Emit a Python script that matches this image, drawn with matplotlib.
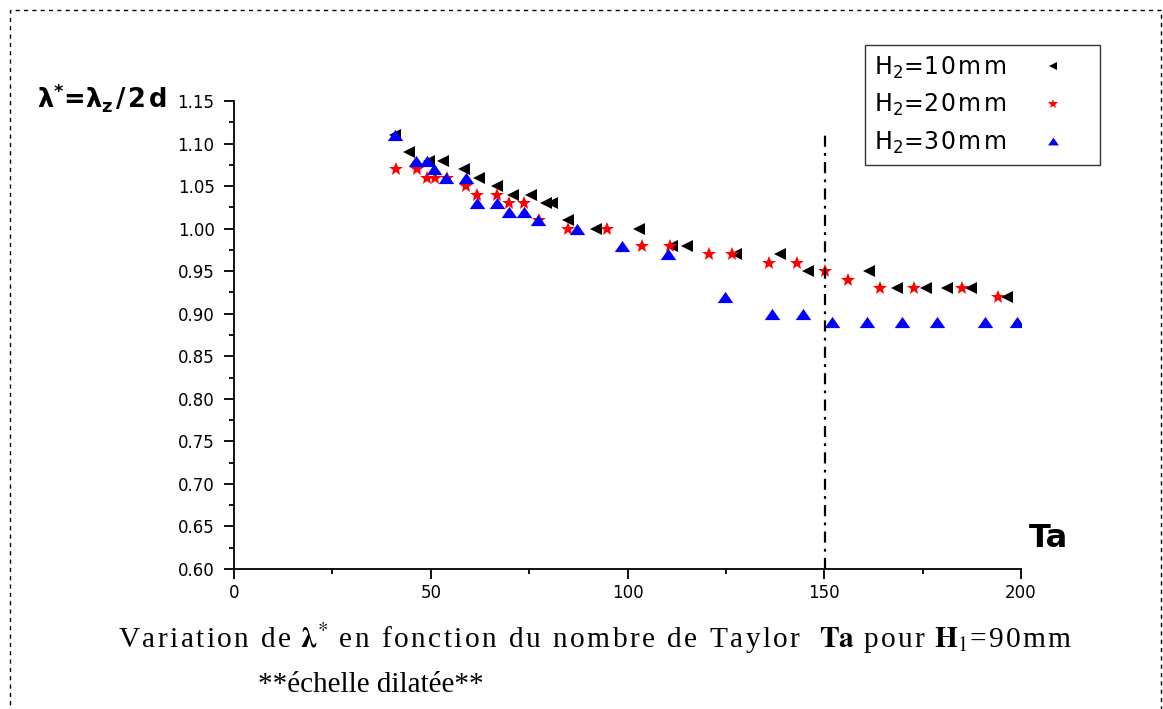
import matplotlib
matplotlib.use("Agg")
import matplotlib.pyplot as plt
from matplotlib.patches import Rectangle
from matplotlib.ticker import MultipleLocator, FuncFormatter

plt.rcParams["font.family"] = ["DejaVu Sans"]
plt.rcParams["mathtext.fontset"] = "custom"
plt.rcParams["mathtext.rm"] = "DejaVu Sans"
plt.rcParams["mathtext.bf"] = "DejaVu Sans:bold"
plt.rcParams["mathtext.it"] = "DejaVu Sans:italic"
plt.rcParams["lines.scale_dashes"] = False

# Taylor number and wavelength ratio for each gap height H2
ta_10 = [41.0, 44.4, 49.5, 53.0, 58.4, 62.2, 66.8, 70.8, 75.6, 79.4, 80.7, 84.8,
         92.1, 103.0, 111.2, 115.0, 127.7, 138.8, 145.9, 161.4, 168.5, 175.9,
         181.2, 187.3, 196.4]
lam_10 = [1.11, 1.09, 1.08, 1.08, 1.07, 1.06, 1.05, 1.04, 1.04, 1.03, 1.03, 1.01,
          1.00, 1.00, 0.98, 0.98, 0.97, 0.97, 0.95, 0.95, 0.93, 0.93,
          0.93, 0.93, 0.92]

ta_20 = [41.1, 46.4, 49.0, 51.0, 54.1, 58.9, 61.7, 66.8, 69.8, 73.6, 77.4, 84.8,
         94.7, 103.8, 110.7, 120.8, 126.6, 136.0, 143.1, 150.3, 156.1, 164.2,
         172.8, 185.0, 194.2]
lam_20 = [1.07, 1.07, 1.06, 1.06, 1.06, 1.05, 1.04, 1.04, 1.03, 1.03, 1.01, 1.00,
          1.00, 0.98, 0.98, 0.97, 0.97, 0.96, 0.96, 0.95, 0.94, 0.93,
          0.93, 0.93, 0.92]

ta_30 = [40.9, 46.2, 49.0, 50.8, 53.8, 58.9, 61.7, 66.8, 69.8, 73.6, 77.2, 87.1,
         98.7, 110.2, 124.9, 136.8, 144.7, 152.0, 160.9, 169.8, 178.7, 190.9, 199.0]
lam_30 = [1.11, 1.08, 1.08, 1.07, 1.06, 1.06, 1.03, 1.03, 1.02, 1.02, 1.01, 1.00,
          0.98, 0.97, 0.92, 0.90, 0.90, 0.89, 0.89, 0.89, 0.89, 0.89, 0.89]

HAIR = "\u200a"
labels = [r"H$_{2}$=" + HAIR.join(s) for s in ("10mm", "20mm", "30mm")]

# critical Taylor number marker line
ta_crit = 150.3
crit_span = [0.60, 1.116]


def spaced(s):
    return HAIR.join(s)


# flattened up-triangle
wide_tri = [(-1, -0.72), (1, -0.72), (0, 0.72), (-1, -0.72)]

fig = plt.figure(figsize=(11.63, 7.09), dpi=100)
ax = fig.add_axes([234 / 1163, 1 - 569 / 709, (1021 - 234) / 1163, (569 - 101) / 709])

ax.plot(ta_10, lam_10, linestyle="none", marker="<", markersize=8.8,
        color="black", markeredgewidth=0, label=labels[0])
ax.plot(ta_20, lam_20, linestyle="none", marker="*", markersize=10,
        color="red", markeredgewidth=0, label=labels[1])
ax.plot(ta_30, lam_30, linestyle="none", marker=wide_tri, markersize=11.2,
        color="blue", markeredgewidth=0, label=labels[2])

ax.plot([ta_crit, ta_crit], crit_span, color="black", linewidth=1.6,
        dashes=(8, 4.5, 2, 4.5))

ax.set_xlim(0, 200)
ax.set_ylim(0.60, 1.15)
ax.xaxis.set_major_locator(MultipleLocator(50))
ax.xaxis.set_minor_locator(MultipleLocator(25))
ax.yaxis.set_major_locator(MultipleLocator(0.05))
ax.yaxis.set_minor_locator(MultipleLocator(0.025))
ax.yaxis.set_major_formatter(FuncFormatter(lambda v, p: f"{v:.2f}"))
ax.xaxis.set_major_formatter(FuncFormatter(lambda v, p: f"{v:.0f}"))

for side in ("top", "right"):
    ax.spines[side].set_visible(False)
for side in ("left", "bottom"):
    ax.spines[side].set_linewidth(1.3)

ax.tick_params(which="major", direction="out", length=7, width=1.3,
               labelsize=12, pad=4)
ax.tick_params(which="minor", direction="out", length=3.5, width=1.3)
ax.tick_params(axis="y", which="major", pad=7)

leg = ax.legend(loc="upper left", bbox_to_anchor=(865 / 1163, 1 - 45 / 709),
                bbox_transform=fig.transFigure, borderaxespad=0,
                markerfirst=False, fontsize=17, markerscale=0.7,
                frameon=True, fancybox=False, handlelength=3.2,
                handletextpad=0.35, labelspacing=0.48, borderpad=0.4,
                edgecolor="black")
leg.get_frame().set_linewidth(1.0)

fig.text(37 / 1163, 1 - 107 / 709,
         r"λ$^{\mathbf{*}}$=λ$_{\mathbf{z}}$" + HAIR + "/" + HAIR + "2" + HAIR + "d",
         fontsize=18.5, fontweight="bold", ha="left", va="baseline")

fig.text(1029 / 1163, 1 - 547 / 709, "Ta", fontsize=23, fontweight="bold",
         ha="left", va="baseline")

cap_font = ["Liberation Serif", "DejaVu Serif"]
caption = (spaced("Variation de ") + r"$\mathbf{\lambda}^{*}$"
           + spaced(" en fonction du nombre de Taylor  ") + r"$\mathbf{Ta}$"
           + spaced(" pour ") + r"$\mathbf{H}_{1}$" + spaced("=90mm"))
fig.text(118 / 1163, 1 - 648 / 709, caption,
         fontsize=21.2, family=cap_font, math_fontfamily="stix",
         ha="left", va="baseline")
fig.text(258 / 1163, 1 - 692 / 709, "**échelle dilatée**",
         fontsize=21, family=cap_font, ha="left", va="baseline")

frame = Rectangle((10 / 1163, -0.05), (1161 - 10) / 1163, (709 - 10) / 709 + 0.05,
                  transform=fig.transFigure, fill=False, edgecolor="black",
                  linewidth=1.0, linestyle=(0, (3, 3)), clip_on=False)
fig.patches.append(frame)

fig.savefig("out.png", dpi=100)
